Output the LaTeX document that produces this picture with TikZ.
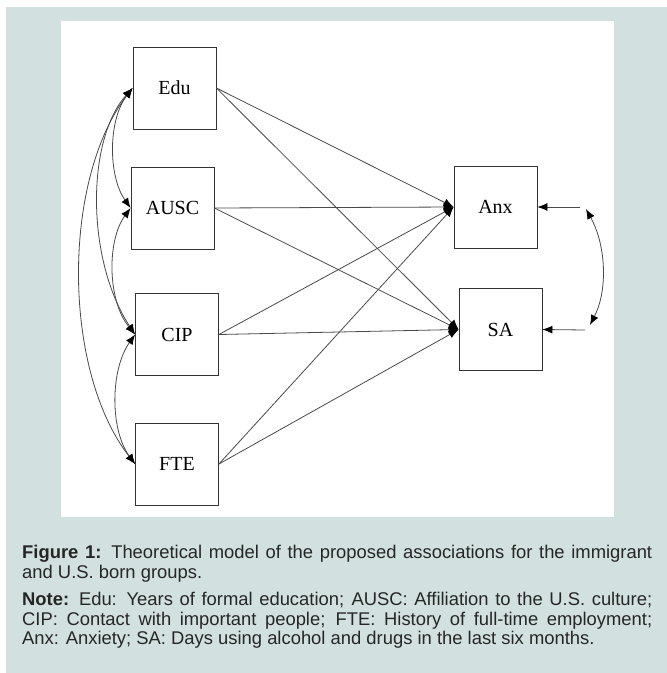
\documentclass[tikz,border=0pt]{standalone}
\usepackage{fontspec}
\setmainfont{Liberation Serif}
\newfontfamily\capfont{Liberation Sans}
\usetikzlibrary{arrows.meta}
\definecolor{pagebg}{HTML}{D2E1E0}
\definecolor{linegray}{HTML}{4A4A4A}

\begin{document}
\begin{tikzpicture}[x=1pt, y=-1pt,
	var/.style={rectangle, minimum width=83pt, minimum height=82pt, draw=black!80, line width=0.8pt, font=\fontsize{20}{24}\selectfont},
	effect/.style={draw=linegray, line width=0.8pt, -{Latex[black,length=10pt,width=8pt]}},
	cov/.style={draw=linegray, line width=0.8pt, {Latex[black,length=10pt,width=8pt]}-{Latex[black,length=10pt,width=8pt]}}]
				\useasboundingbox (0,0) rectangle (667,673);
				\fill[white] (0,0) rectangle (667,673);
				\fill[pagebg] (6,7) rectangle (667,673);
				\fill[white] (61,21) rectangle (614,517);
				\node[var] (edu) at(174.5,88){Edu};
				\node[var] (ausc) at(172.5,208){AUSC};
				\node[var] (cip) at(177,334.5){CIP};
				\node[var] (fte) at(177,464){FTE};
				\node[var] (anx) at(495.5,207){Anx};
				\node[var] (sa) at(500.5,329.5){SA};
				\coordinate (anxr) at(580,207);
				\coordinate (sar) at(585,330);
				\coordinate (anxc) at(586,209);
				\coordinate (sac) at(590,325);
				\foreach \src in {edu,ausc,cip,fte}{
					\draw[effect] (\src.east) -- (anx.west);
					\draw[effect] (\src.east) -- (sa.west);
				}
				\draw[effect] (anxr) -- (anx.east);
				\draw[effect] (sar) -- (sa.east);
				\draw[cov] (anxc) .. controls (606,245) and (608,290) .. (sac);
				\draw[cov] (edu.west) .. controls (108,120) and (108,176) .. (ausc.west);
				\draw[cov] (edu.west) .. controls (86,140) and (86,260) .. (cip.west);
				\draw[cov] (edu.west) .. controls (62,180) and (62,370) .. (fte.west);
				\draw[cov] (ausc.west) .. controls (107,240) and (107,300) .. (cip.west);
				\draw[cov] (cip.west) .. controls (110,370) and (110,430) .. (fte.west);
				\node[anchor=north west, inner sep=0pt, text width=630pt, align=justify, text=black!85,
				font=\capfont\fontsize{18.4}{19.5}\selectfont] (caption) at(22,545){\textbf{Figure 1:} Theoretical model of the proposed associations for the immigrant\linebreak and U.S. born groups.\par\vspace{8pt}\textbf{Note:} Edu: Years of formal education; AUSC: Affiliation to the U.S. culture;\linebreak CIP: Contact with important people; FTE: History of full-time employment;\linebreak Anx: Anxiety; SA: Days using alcohol and drugs in the last six months.};
			\end{tikzpicture}
\end{document}
